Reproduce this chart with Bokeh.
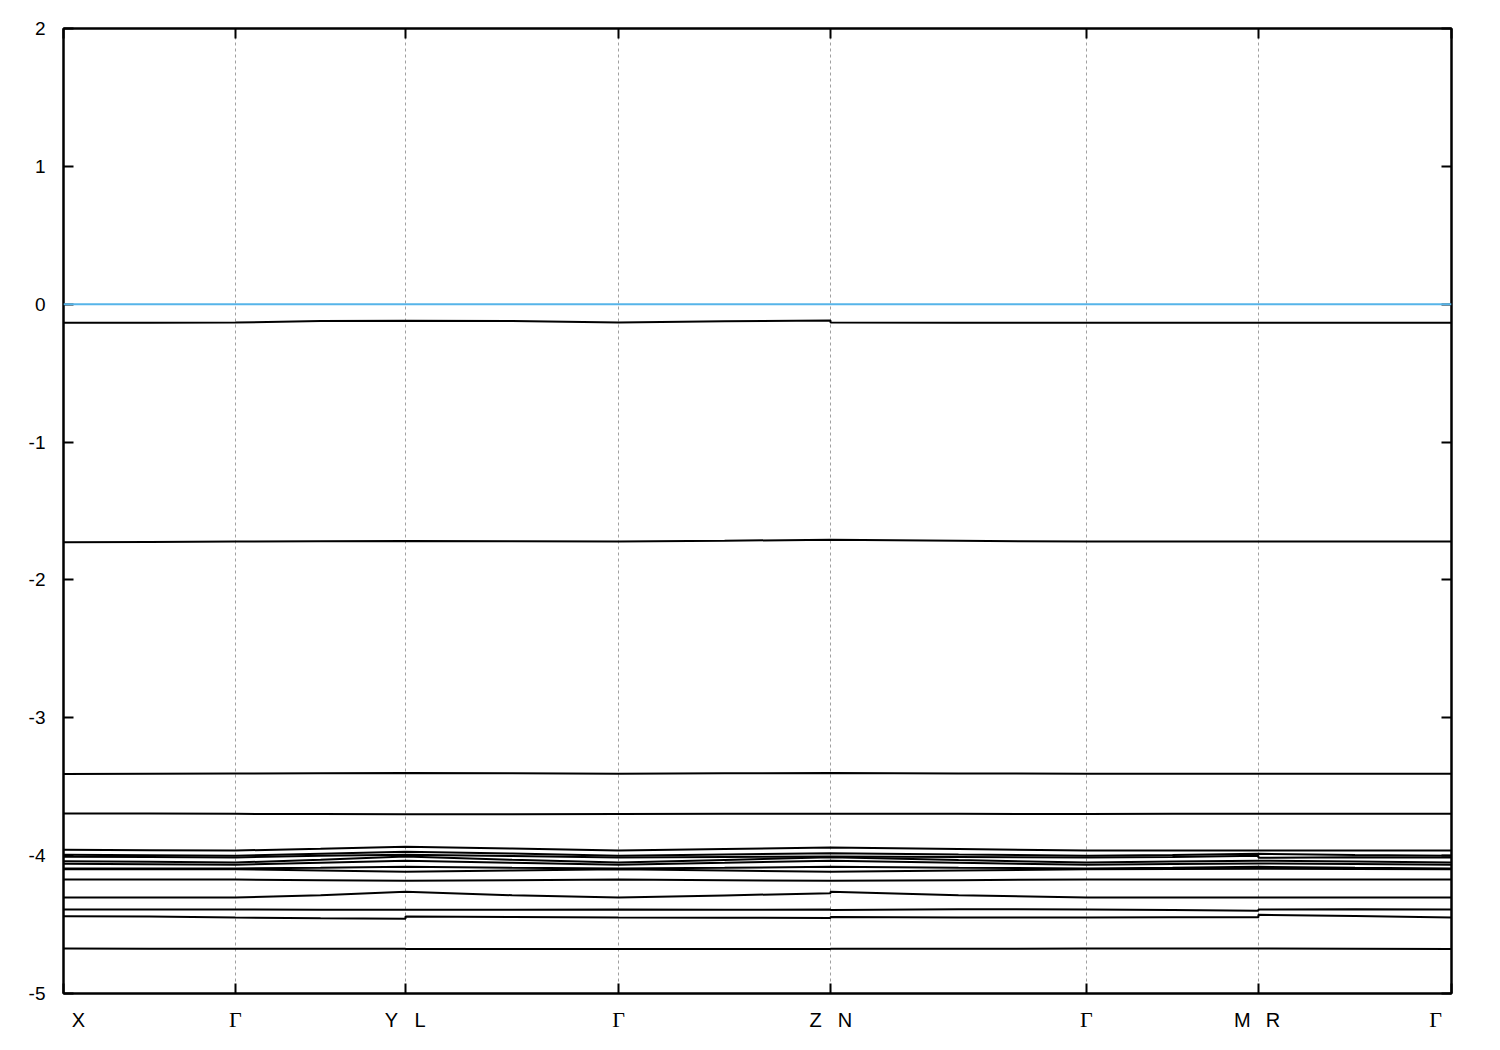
from bokeh.plotting import figure
from bokeh.models import Range1d, FixedTicker, LinearAxis, Span
from bokeh.embed import file_html
from bokeh.resources import INLINE

# ---- high-symmetry path ----
tick_pos = [0.0, 0.1239, 0.2464, 0.3999, 0.5526, 0.7370, 0.8609, 1.0]
tick_names = ["X", "Γ", "Y|L", "Γ", "Z|N", "Γ", "M|R", "Γ"]
y_ticks = [-5, -4, -3, -2, -1, 0, 1, 2]
y_tick_labels = ["-5", "-4", "-3", "-2", "-1", "0", "1", "2"]

# label placement (k position, pixel shift) for the Latin and the Greek labels
latin_labels = ["X", "Y", "L", "Z", "N", "M", "R"]
latin_anchor = [tick_pos[0], tick_pos[2], tick_pos[2], tick_pos[4], tick_pos[4], tick_pos[6], tick_pos[6]]
latin_shift_px = [15, -14, 14.5, -15, 14.5, -16, 14.5]
greek_labels = ["Γ", "Γ", "Γ", "Γ"]
greek_anchor = [tick_pos[1], tick_pos[3], tick_pos[5], tick_pos[7]]
greek_shift_px = [0, 0, 0, -16]

# sample positions along the path: X, m, Γ, m, Y, L, m, Γ, m, Z, N, m, Γ, m, M, R, m, Γ
k = [0.0, 0.062, 0.1239, 0.1852, 0.2464, 0.2464, 0.3232, 0.3999, 0.4763,
     0.5526, 0.5526, 0.6448, 0.7370, 0.7990, 0.8609, 0.8609, 0.9305, 1.0]

# ---- band energies (eV) ----
band_01 = [-0.134, -0.134, -0.133, -0.121, -0.120, -0.120, -0.121, -0.133, -0.123, -0.119, -0.133, -0.134, -0.134, -0.134, -0.134, -0.134, -0.134, -0.134]
band_02 = [-1.726, -1.724, -1.722, -1.720, -1.718, -1.718, -1.719, -1.721, -1.716, -1.708, -1.708, -1.716, -1.722, -1.722, -1.722, -1.722, -1.722, -1.722]
band_03 = [-3.407, -3.406, -3.405, -3.403, -3.400, -3.400, -3.403, -3.406, -3.403, -3.400, -3.400, -3.404, -3.406, -3.406, -3.406, -3.406, -3.406, -3.406]
band_04 = [-3.694, -3.695, -3.697, -3.698, -3.700, -3.700, -3.699, -3.698, -3.697, -3.696, -3.696, -3.697, -3.698, -3.697, -3.696, -3.696, -3.696, -3.696]
band_05 = [-3.958, -3.960, -3.963, -3.950, -3.936, -3.936, -3.948, -3.963, -3.952, -3.941, -3.941, -3.952, -3.963, -3.963, -3.963, -3.963, -3.963, -3.963]
band_06 = [-3.994, -3.998, -4.001, -3.986, -3.972, -3.972, -3.985, -4.001, -3.992, -3.982, -3.982, -3.992, -4.001, -3.995, -3.987, -3.987, -3.995, -4.001]
band_07 = [-4.008, -4.010, -4.013, -4.001, -3.994, -3.994, -4.003, -4.013, -4.010, -4.006, -4.006, -4.010, -4.013, -4.010, -4.000, -4.015, -4.012, -4.013]
band_08 = [-4.041, -4.045, -4.050, -4.030, -4.006, -4.006, -4.030, -4.050, -4.032, -4.012, -4.012, -4.032, -4.050, -4.042, -4.037, -4.037, -4.042, -4.050]
band_09 = [-4.059, -4.062, -4.066, -4.052, -4.037, -4.037, -4.052, -4.066, -4.052, -4.037, -4.037, -4.052, -4.066, -4.061, -4.057, -4.057, -4.061, -4.066]
band_10 = [-4.093, -4.093, -4.093, -4.088, -4.081, -4.081, -4.088, -4.093, -4.088, -4.081, -4.081, -4.088, -4.093, -4.088, -4.081, -4.081, -4.088, -4.093]
band_11 = [-4.099, -4.099, -4.099, -4.108, -4.117, -4.117, -4.108, -4.099, -4.108, -4.117, -4.117, -4.108, -4.099, -4.097, -4.095, -4.095, -4.097, -4.099]
band_12 = [-4.173, -4.173, -4.173, -4.178, -4.183, -4.183, -4.178, -4.173, -4.178, -4.183, -4.183, -4.178, -4.173, -4.173, -4.173, -4.173, -4.173, -4.173]
band_13 = [-4.304, -4.304, -4.304, -4.287, -4.262, -4.262, -4.287, -4.304, -4.289, -4.272, -4.262, -4.287, -4.304, -4.304, -4.304, -4.304, -4.304, -4.304]
band_14 = [-4.391, -4.391, -4.391, -4.392, -4.393, -4.393, -4.392, -4.391, -4.392, -4.391, -4.395, -4.388, -4.391, -4.395, -4.400, -4.390, -4.389, -4.391]
band_15 = [-4.439, -4.442, -4.449, -4.455, -4.458, -4.441, -4.445, -4.449, -4.450, -4.453, -4.445, -4.448, -4.449, -4.447, -4.446, -4.429, -4.437, -4.449]
band_16 = [-4.674, -4.675, -4.676, -4.676, -4.676, -4.677, -4.677, -4.678, -4.677, -4.678, -4.676, -4.676, -4.674, -4.674, -4.674, -4.674, -4.676, -4.678]

fermi_level = 0.0

bands = [band_01, band_02, band_03, band_04, band_05, band_06, band_07, band_08,
         band_09, band_10, band_11, band_12, band_13, band_14, band_15, band_16]

FRAME_W, FRAME_H = 1388, 965
X0, X1 = 0.0, 1.0

# ---- figure ----
p = figure(frame_width=FRAME_W, frame_height=FRAME_H,
           x_range=Range1d(X0, X1), y_range=Range1d(-5, 2),
           output_backend="svg", toolbar_location=None,
           min_border_left=63, min_border_right=33,
           min_border_top=28, min_border_bottom=41,
           background_fill_color="white", border_fill_color="white")

p.outline_line_color = "black"
p.outline_line_width = 2

# grid: dashed vertical lines at inner high-symmetry points
p.ygrid.visible = False
p.xgrid.ticker = FixedTicker(ticks=tick_pos[1:-1])
p.xgrid.grid_line_color = "#a0a0a0"
p.xgrid.grid_line_dash = "3 3"
p.xgrid.grid_line_width = 1

# bottom axis: ticks only (no labels drawn)
xa = p.xaxis[0]
xa.ticker = FixedTicker(ticks=tick_pos)
xa.major_tick_in = 10
xa.major_tick_out = 0
xa.minor_tick_line_color = None
xa.major_label_text_font_size = "0px"
xa.major_label_text_color = None
xa.major_label_standoff = 0
xa.axis_line_width = 2
xa.major_tick_line_width = 2

# label-only axes for the k-point names
px_to_k = (X1 - X0) / FRAME_W
latin_ticks = [a + s * px_to_k for a, s in zip(latin_anchor, latin_shift_px)]
greek_ticks = [a + s * px_to_k for a, s in zip(greek_anchor, greek_shift_px)]

lat_axis = LinearAxis(ticker=FixedTicker(ticks=latin_ticks),
                      major_label_overrides={t: s for t, s in zip(latin_ticks, latin_labels)},
                      axis_line_color=None, major_tick_line_color=None, minor_tick_line_color=None,
                      major_tick_in=0, major_tick_out=0,
                      major_label_standoff=15,
                      major_label_text_font="Liberation Sans",
                      major_label_text_font_size="20px",
                      major_label_text_color="black")
p.add_layout(lat_axis, "below")

gr_axis = LinearAxis(ticker=FixedTicker(ticks=greek_ticks),
                     major_label_overrides={t: s for t, s in zip(greek_ticks, greek_labels)},
                     axis_line_color=None, major_tick_line_color=None, minor_tick_line_color=None,
                     major_tick_in=0, major_tick_out=0,
                     major_label_standoff=-27,
                     major_label_text_font="Liberation Serif",
                     major_label_text_font_size="22px",
                     major_label_text_color="black")
p.add_layout(gr_axis, "below")

# left axis
ya = p.yaxis[0]
ya.ticker = FixedTicker(ticks=y_ticks)
ya.major_label_overrides = {t: s for t, s in zip(y_ticks, y_tick_labels)}
ya.major_tick_in = 10
ya.major_tick_out = 0
ya.minor_tick_line_color = None
ya.major_label_standoff = 18
ya.major_label_text_font = "Liberation Sans"
ya.major_label_text_font_size = "19px"
ya.major_label_text_color = "black"
ya.axis_line_width = 2
ya.major_tick_line_width = 2

# mirrored axes (ticks only)
top = LinearAxis(ticker=FixedTicker(ticks=tick_pos), major_tick_in=10, major_tick_out=0,
                 minor_tick_line_color=None, major_label_text_font_size="0px",
                 major_label_text_color=None,
                 major_label_standoff=0, axis_line_width=2, major_tick_line_width=2)
p.add_layout(top, "above")
right = LinearAxis(ticker=FixedTicker(ticks=y_ticks), major_tick_in=10, major_tick_out=0,
                   minor_tick_line_color=None, major_label_text_font_size="0px",
                   major_label_text_color=None,
                   major_label_standoff=0, axis_line_width=2, major_tick_line_width=2)
p.add_layout(right, "right")

# Fermi level
p.add_layout(Span(location=fermi_level, dimension="width", line_color="#56b4e9", line_width=2))

# bands
for b in bands:
    p.line(k, b, line_color="black", line_width=2)

open("out.html", "w").write(file_html(p, INLINE))
